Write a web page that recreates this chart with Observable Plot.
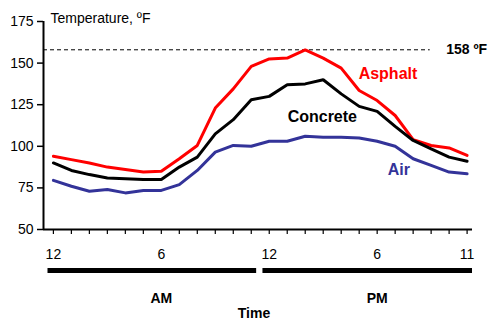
<!DOCTYPE html>
<html><head><meta charset="utf-8">
<script src="https://cdn.jsdelivr.net/npm/d3@7"></script>
<script src="https://cdn.jsdelivr.net/npm/@observablehq/plot@0.6"></script>
<style>body{margin:0;background:#fff} svg{font-family:"Liberation Sans",Arial,sans-serif}</style>
</head><body><div id="chart"></div>
<script>
const hours = [0,1,2,3,4,5,6,7,8,9,10,11,12,13,14,15,16,17,18,19,20,21,22,23];
const asphalt = [94,92,90,87.5,86,84.5,85,92.5,100.5,123,134.5,148,152.5,153,158,153,147,133.5,127.5,118.5,104,100.5,99,94.5];
const concrete = [90,85.5,83,81,80.5,80,80,87.5,93.5,107.5,116,128,130,137,137.5,140,131.5,124,121,112,103.5,98.5,93.5,91];
const air = [79.5,76,73,74,72,73.5,73.5,77,85.5,96.5,100.5,100,103,103,106,105.5,105.5,105,103,100,92.5,88.5,84.5,83.5];
const seriesNames = ["Asphalt","Concrete","Air"];
const seriesColors = ["#ff0000","#000000","#333399"];
const labelHours = [18.6, 14.95, 19.2];
const labelValues = [143.7, 117.9, 86];
const yTicks = [50,75,100,125,150,175];
const tickHours = [0,6,12,18,23];
const tickLabels = ["12","6","12","6","11"];
const periodLabels = ["AM","PM"];
const periodStart = [-0.3, 11.65];
const periodEnd = [11.3, 23.3];
const periodMid = [6, 18];
const peakValue = 158;
const peakLabel = "158 ºF";
const xDomain = [-0.55, 23.3];
const yDomain = [50, 175];

const series = [asphalt, concrete, air];
const rows = [];
series.forEach((vals, s) => vals.forEach((v, i) => rows.push({hour: hours[i], value: v, name: seriesNames[s]})));
const labels = seriesNames.map((n, i) => ({name: n, hour: labelHours[i], value: labelValues[i], color: seriesColors[i]}));
const periods = periodLabels.map((p, i) => ({label: p, start: periodStart[i], end: periodEnd[i], mid: periodMid[i]}));

const chart = Plot.plot({
  width: 488, height: 327,
  marginLeft: 43, marginRight: 16, marginTop: 21, marginBottom: 98,
  style: {fontFamily: "Liberation Sans, Arial, sans-serif", fontSize: "14px", background: "#fff", color: "#000", overflow: "visible"},
  x: {domain: xDomain, axis: null},
  y: {domain: yDomain, axis: null},
  color: {domain: seriesNames, range: seriesColors},
  marks: [
    Plot.ruleY([peakValue], {x1: xDomain[0], x2: 20.95, stroke: "#000", strokeWidth: 1, strokeDasharray: "4,3"}),
    Plot.text([peakLabel], {x: 20.95, y: peakValue, dx: 16, textAnchor: "start", fontWeight: "bold", fontSize: 14, fill: "#000"}),
    Plot.axisY(yTicks, {tickSize: 6, tickPadding: 4, fontSize: 14, fill: "#000", stroke: "#000", strokeWidth: 1.5, label: null}),
    Plot.axisX(hours, {tickSize: 5, tickFormat: () => "", stroke: "#000", strokeWidth: 1.2, label: null}),
    Plot.axisX(tickHours, {tickSize: 0, tickPadding: 20, fontSize: 14, fill: "#000", tickFormat: d => tickLabels[tickHours.indexOf(d)], label: null}),
    Plot.ruleX([xDomain[0]], {y1: yDomain[0], y2: yDomain[1], stroke: "#000", strokeWidth: 2}),
    Plot.ruleY([yDomain[0]], {x1: xDomain[0], x2: xDomain[1], stroke: "#000", strokeWidth: 2}),
    Plot.line(rows, {x: "hour", y: "value", z: "name", stroke: "name", strokeWidth: 3, strokeLinejoin: "miter"}),
    Plot.text(labels, {x: "hour", y: "value", text: "name", fill: "color", fontWeight: "bold", fontSize: 16}),
    Plot.ruleY(periods, {y: () => yDomain[0], x1: "start", x2: "end", dy: 41, stroke: "#000", strokeWidth: 5}),
    Plot.text(periods, {x: "mid", y: () => yDomain[0], text: "label", dy: 69, fontWeight: "bold", fontSize: 14, fill: "#000"}),
    Plot.text(["Time"], {frameAnchor: "bottom", dy: 88, dx: -4, fontWeight: "bold", fontSize: 14, fill: "#000"}),
    Plot.text(["Temperature, ºF"], {frameAnchor: "top-left", dx: 7, dy: -8, textAnchor: "start", fontSize: 14, fill: "#000"})
  ]
});
document.getElementById("chart").appendChild(chart);
</script>
</body></html>
